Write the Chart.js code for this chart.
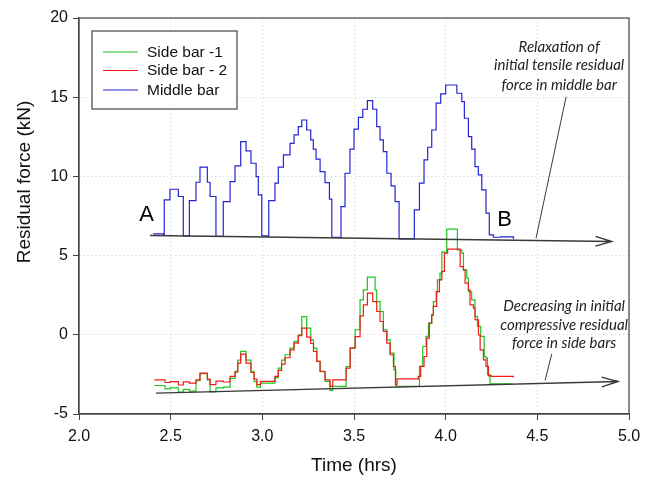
<!DOCTYPE html>
<html>
<head>
<meta charset="utf-8">
<script src="https://cdn.jsdelivr.net/npm/chart.js@4.4.0/dist/chart.umd.min.js"></script>
<style>
  body { margin: 0; background: #fff; }
  #wrap { width: 649px; height: 480px; }
</style>
</head>
<body>
<div id="wrap"><canvas id="residualChart" width="649" height="480"></canvas></div>
<script>
// time (hrs) where each step starts, and the force (kN) from there on
const blueX = [2.405, 2.460, 2.465, 2.496, 2.542, 2.569, 2.602, 2.638, 2.660, 2.700, 2.715, 2.747, 2.787, 2.824, 2.851,
  2.882, 2.911, 2.938, 2.966, 2.978, 2.997, 3.035, 3.069, 3.087, 3.115, 3.151, 3.173, 3.196, 3.215, 3.242,
  3.264, 3.278, 3.293, 3.315, 3.342, 3.366, 3.379, 3.429, 3.451, 3.478, 3.500, 3.524, 3.548, 3.573, 3.602,
  3.624, 3.642, 3.660, 3.679, 3.702, 3.724, 3.746, 3.829, 3.857, 3.882, 3.902, 3.924, 3.948, 3.973, 4.000,
  4.061, 4.088, 4.102, 4.124, 4.142, 4.160, 4.178, 4.197, 4.220, 4.238, 4.260, 4.300, 4.370];
const blueY = [6.37, 6.30, 8.52, 9.19, 8.73, 6.25, 8.47, 9.63, 10.58, 9.63, 8.73, 6.22, 8.41, 9.67, 10.66,
  12.20, 11.61, 10.83, 9.99, 8.83, 6.25, 8.47, 9.57, 10.58, 11.36, 12.09, 12.62, 13.14, 13.56, 12.93,
  12.30, 11.72, 11.09, 10.30, 9.61, 8.56, 6.15, 8.09, 10.20, 11.72, 12.98, 13.73, 14.24, 14.78, 14.24,
  13.14, 12.30, 11.56, 10.20, 9.40, 8.41, 6.05, 7.89, 9.57, 11.04, 11.84, 12.93, 14.62, 15.21, 15.77,
  15.25, 14.72, 13.67, 12.51, 11.72, 10.62, 10.09, 9.15, 7.68, 6.31, 6.16, 6.18, 6.05];

const redX = [2.411, 2.469, 2.497, 2.542, 2.569, 2.602, 2.638, 2.660, 2.700, 2.715, 2.747, 2.787, 2.824, 2.851, 2.866,
  2.882, 2.911, 2.938, 2.955, 2.970, 2.990, 3.069, 3.087, 3.105, 3.124, 3.151, 3.173, 3.196, 3.215, 3.242,
  3.264, 3.279, 3.297, 3.315, 3.342, 3.369, 3.384, 3.457, 3.479, 3.506, 3.533, 3.551, 3.573, 3.602, 3.624,
  3.642, 3.660, 3.679, 3.697, 3.715, 3.726, 3.735, 3.851, 3.864, 3.882, 3.897, 3.911, 3.924, 3.933, 3.951,
  3.966, 3.979, 3.993, 4.011, 4.079, 4.097, 4.106, 4.124, 4.133, 4.151, 4.160, 4.179, 4.188, 4.206, 4.220,
  4.233, 4.251, 4.369];
const redY = [-2.84, -3.01, -2.95, -3.17, -2.97, -3.05, -2.85, -2.42, -2.80, -3.15, -2.92, -2.98, -2.63, -2.36, -1.79,
  -1.22, -1.79, -2.38, -2.80, -3.15, -2.94, -2.63, -2.25, -1.85, -1.45, -0.95, -0.53, -0.05, 0.42, -0.15,
  -0.55, -1.05, -1.68, -2.30, -2.84, -3.26, -2.84, -2.10, -0.84, -0.11, 1.20, 1.89, 2.63, 2.10, 1.47,
  0.84, 0.21, -0.53, -1.26, -2.00, -3.15, -2.78, -2.63, -1.99, -1.37, -0.21, 0.74, 1.26, 1.79, 2.73,
  3.47, 4.00, 5.15, 5.41, 4.31, 4.10, 3.26, 2.84, 1.89, 1.68, 0.95, 0.00, -0.95, -1.58, -1.99,
  -2.59, -2.63, -2.70];

const greenX = [2.411, 2.469, 2.497, 2.542, 2.569, 2.602, 2.638, 2.660, 2.700, 2.715, 2.747, 2.787, 2.824, 2.851, 2.866,
  2.882, 2.911, 2.938, 2.955, 2.970, 2.990, 3.069, 3.087, 3.105, 3.124, 3.151, 3.173, 3.196, 3.215, 3.242,
  3.264, 3.279, 3.297, 3.315, 3.342, 3.369, 3.384, 3.457, 3.479, 3.506, 3.533, 3.551, 3.573, 3.615, 3.624,
  3.642, 3.660, 3.679, 3.697, 3.718, 3.728, 3.857, 3.875, 3.893, 3.906, 3.924, 3.933, 3.948, 3.955, 3.969,
  3.979, 4.006, 4.064, 4.088, 4.097, 4.115, 4.124, 4.142, 4.160, 4.173, 4.191, 4.210, 4.220, 4.228, 4.242,
  4.360];
const greenY = [-3.20, -3.42, -3.35, -3.62, -3.45, -3.55, -2.90, -2.45, -2.85, -3.60, -3.35, -3.30, -2.75, -2.30, -1.60,
  -1.05, -1.60, -2.30, -2.95, -3.30, -3.05, -2.70, -2.10, -1.60, -1.26, -0.84, -0.42, 0.00, 1.15, 0.42,
  -0.32, -0.84, -1.68, -2.32, -2.94, -3.51, -3.26, -2.00, -0.84, 0.32, 2.21, 2.84, 3.64, 2.84, 2.10,
  1.47, 0.32, -0.32, -1.16, -2.21, -3.26, -1.99, -0.74, -0.10, 0.74, 1.26, 2.10, 2.73, 3.47, 3.89,
  5.22, 6.67, 5.36, 5.15, 4.10, 3.58, 2.73, 2.21, 1.16, 0.53, -0.10, -1.37, -1.47, -2.52, -3.09,
  -3.09];

const seriesNames = ["Side bar -1", "Side bar - 2", "Middle bar"];
const seriesColors = ["#1fc41f", "#f21a1a", "#2424d4"];

const xTicks = [2.0, 2.5, 3.0, 3.5, 4.0, 4.5, 5.0];
const yTicks = [-5, 0, 5, 10, 15, 20];

// annotation geometry, in data units (hrs, kN)
const arrowStart = [[2.387, 6.27], [2.42, -3.68]];
const arrowEnd = [[4.906, 5.89], [4.94, -2.95]];
const pointerStart = [[4.657, 15.03], [4.579, -1.20]];
const pointerEnd = [[4.493, 6.10], [4.542, -2.88]];
const noteTop = ["Relaxation of", "initial tensile residual", "force in middle bar"];
const noteTopY = [18.19, 17.03, 15.77];
const noteBottom = ["Decreasing in initial", "compressive residual", "force in side bars"];
const noteBottomY = [1.83, 0.63, -0.52];
const letterPos = [["A", 2.368, 7.57], ["B", 4.321, 7.26]];

const toPoints = (xs, ys) => xs.map((v, i) => ({ x: v, y: ys[i] }));

const ARIAL = "'Liberation Sans', Arial, sans-serif";

const annotations = {
  id: "annotations",
  afterDatasetsDraw(chart) {
    const { ctx, chartArea: a, scales: { x, y } } = chart;
    ctx.save();

    // frame round the plot
    ctx.strokeStyle = "#444";
    ctx.lineWidth = 1.2;
    ctx.strokeRect(a.left, a.top, a.right - a.left, a.bottom - a.top);

    // trend arrows
    ctx.strokeStyle = "#3a3a3a";
    ctx.lineWidth = 1.4;
    arrowStart.forEach((s, i) => {
      const x0 = x.getPixelForValue(s[0]), y0 = y.getPixelForValue(s[1]);
      const x1 = x.getPixelForValue(arrowEnd[i][0]), y1 = y.getPixelForValue(arrowEnd[i][1]);
      const ang = Math.atan2(y1 - y0, x1 - x0);
      ctx.beginPath();
      ctx.moveTo(x0, y0);
      ctx.lineTo(x1, y1);
      ctx.moveTo(x1 - 17 * Math.cos(ang - 0.29), y1 - 17 * Math.sin(ang - 0.29));
      ctx.lineTo(x1, y1);
      ctx.lineTo(x1 - 17 * Math.cos(ang + 0.29), y1 - 17 * Math.sin(ang + 0.29));
      ctx.stroke();
    });

    // pointers from notes
    ctx.lineWidth = 1;
    pointerStart.forEach((s, i) => {
      ctx.beginPath();
      ctx.moveTo(x.getPixelForValue(s[0]), y.getPixelForValue(s[1]));
      ctx.lineTo(x.getPixelForValue(pointerEnd[i][0]), y.getPixelForValue(pointerEnd[i][1]));
      ctx.stroke();
    });

    // italic notes
    ctx.fillStyle = "#222";
    ctx.font = "italic 15px Lato, 'Open Sans', sans-serif";
    ctx.textAlign = "center";
    ctx.textBaseline = "middle";
    noteTop.forEach((t, i) => ctx.fillText(t, x.getPixelForValue(4.619), y.getPixelForValue(noteTopY[i])));
    noteBottom.forEach((t, i) => ctx.fillText(t, x.getPixelForValue(4.646), y.getPixelForValue(noteBottomY[i])));

    // A / B markers
    ctx.fillStyle = "#000";
    ctx.font = "22px " + ARIAL;
    letterPos.forEach(([t, lx, ly]) => ctx.fillText(t, x.getPixelForValue(lx), y.getPixelForValue(ly)));

    // legend box
    const bx = a.left + 13, by = a.top + 13, bw = 145, bh = 78;
    ctx.fillStyle = "#fff";
    ctx.fillRect(bx, by, bw, bh);
    ctx.strokeStyle = "#444";
    ctx.lineWidth = 1.2;
    ctx.strokeRect(bx, by, bw, bh);
    ctx.font = "15.5px " + ARIAL;
    ctx.textAlign = "left";
    const rows = [21, 39.5, 59];
    seriesNames.forEach((name, i) => {
      ctx.strokeStyle = seriesColors[i];
      ctx.lineWidth = 1.2;
      ctx.beginPath();
      ctx.moveTo(bx + 11, by + rows[i]);
      ctx.lineTo(bx + 46, by + rows[i]);
      ctx.stroke();
      ctx.fillStyle = "#111";
      ctx.fillText(name, bx + 55, by + rows[i] + 0.5);
    });
    ctx.restore();
  },
  afterDraw(chart) {
    const { ctx, chartArea: a } = chart;
    ctx.save();
    ctx.fillStyle = "#111";
    ctx.font = "19px " + ARIAL;
    ctx.textAlign = "center";
    ctx.textBaseline = "middle";
    ctx.fillText("Time (hrs)", (a.left + a.right) / 2, 466);
    ctx.translate(25, 182);
    ctx.rotate(-Math.PI / 2);
    ctx.fillText("Residual force (kN)", 0, 0);
    ctx.restore();
  }
};

const lineSet = (i, xs, ys, order) => ({
  label: seriesNames[i],
  data: toPoints(xs, ys),
  borderColor: seriesColors[i],
  backgroundColor: seriesColors[i],
  borderWidth: 1.2,
  stepped: true,
  pointRadius: 0,
  fill: false,
  order: order
});

new Chart(document.getElementById("residualChart"), {
  type: "line",
  data: {
    datasets: [
      lineSet(0, greenX, greenY, 2),
      lineSet(1, redX, redY, 1),
      lineSet(2, blueX, blueY, 0)
    ]
  },
  options: {
    responsive: false,
    animation: false,
    devicePixelRatio: 1,
    layout: { padding: { top: 18, right: 20, left: 0, bottom: 0 } },
    plugins: { legend: { display: false }, tooltip: { enabled: false } },
    scales: {
      x: {
        type: "linear",
        min: 2, max: 5,
        afterFit: (s) => { s.height = 66; },
        afterBuildTicks: (s) => { s.ticks = xTicks.map(v => ({ value: v })); },
        ticks: { color: "#111", font: { size: 16, family: ARIAL }, padding: 7, maxRotation: 0,
                 callback: (v) => Number(v).toFixed(1) },
        grid: { color: "#cdcdcd", tickColor: "#444", tickLength: 6, tickBorderDash: [], lineWidth: 1 },
        border: { color: "#444", width: 1.2, dash: [1, 3] }
      },
      y: {
        min: -5, max: 20,
        afterFit: (s) => { s.width = 79; },
        afterBuildTicks: (s) => { s.ticks = yTicks.map(v => ({ value: v })); },
        ticks: { color: "#111", font: { size: 16, family: ARIAL }, padding: 5 },
        grid: { color: "#cdcdcd", tickColor: "#444", tickLength: 6, tickBorderDash: [], lineWidth: 1 },
        border: { color: "#444", width: 1.2, dash: [1, 3] }
      }
    }
  },
  plugins: [annotations]
});
</script>
</body>
</html>
